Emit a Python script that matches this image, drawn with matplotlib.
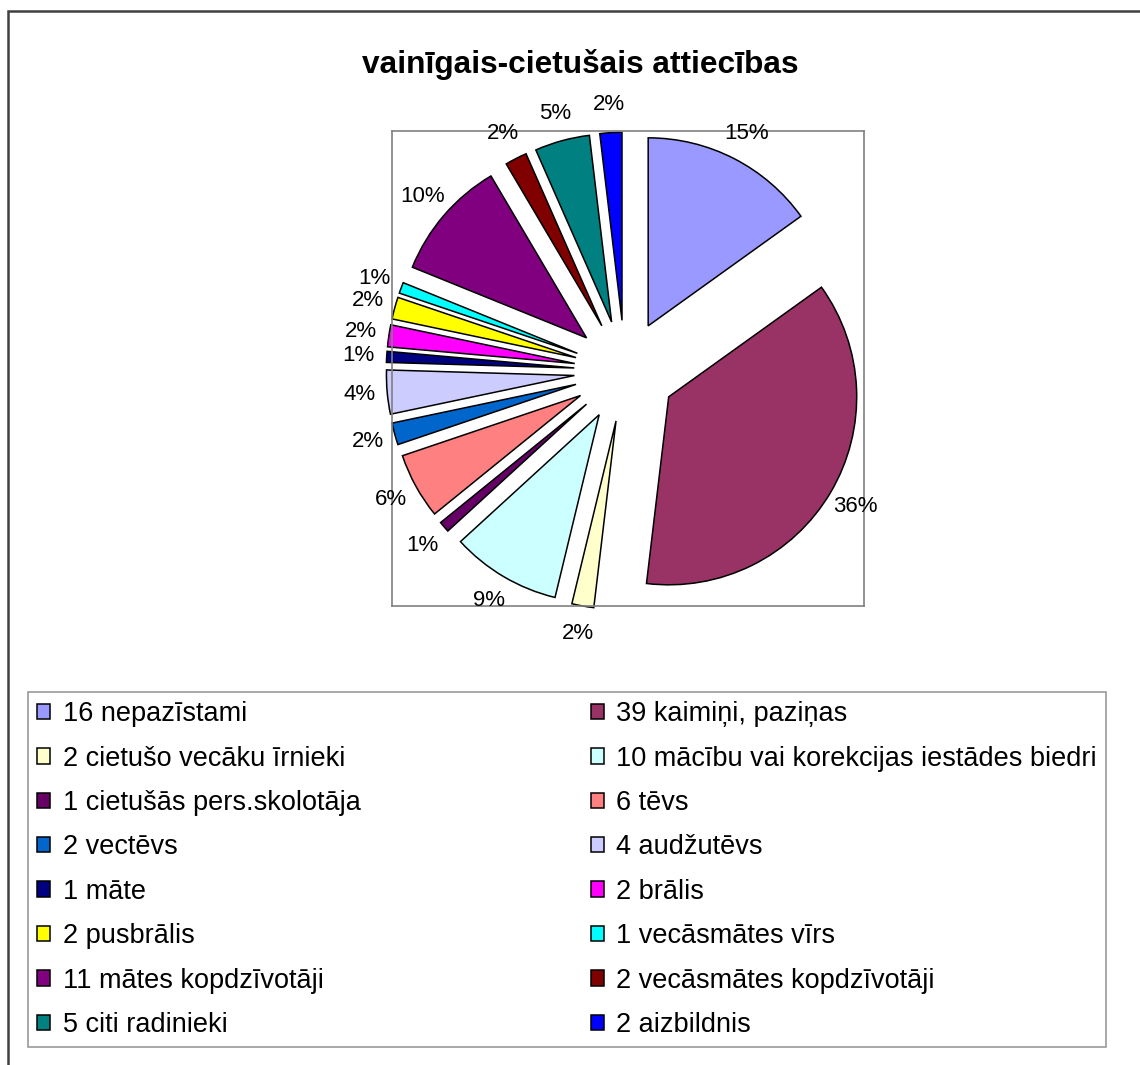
import matplotlib.pyplot as plt
from matplotlib.patches import Patch, Rectangle

plt.rcParams['font.family'] = ['Liberation Sans', 'DejaVu Sans']

# data
names = ['nepazīstami', 'kaimiņi, paziņas', 'cietušo vecāku īrnieki',
         'mācību vai korekcijas iestādes biedri', 'cietušās pers.skolotāja',
         'tēvs', 'vectēvs', 'audžutēvs', 'māte', 'brālis', 'pusbrālis',
         'vecāsmātes vīrs', 'mātes kopdzīvotāji', 'vecāsmātes kopdzīvotāji',
         'citi radinieki', 'aizbildnis']
counts = [16, 39, 2, 10, 1, 6, 2, 4, 1, 2, 2, 1, 11, 2, 5, 2]
pct_labels = ['15%', '36%', '2%', '9%', '1%', '6%', '2%', '4%', '1%', '2%',
              '2%', '1%', '10%', '2%', '5%', '2%']
colors = ['#9999FF', '#993366', '#FFFFCC', '#CCFFFF', '#660066', '#FF8080',
          '#0066CC', '#CCCCFF', '#000080', '#FF00FF', '#FFFF00', '#00FFFF',
          '#800080', '#800000', '#008080', '#0000FF']
title = 'vainīgais-cietušais attiecības'

W, H = 1140, 1065
fig = plt.figure(figsize=(W / 100, H / 100), dpi=100)

# plot area box in pixels, pie centre and radius
bx0, by0, bx1, by1 = 392, 131, 864, 606
cx, cy, R = 625, 371, 188
ax = fig.add_axes([bx0 / W, 1 - by1 / H, (bx1 - bx0) / W, (by1 - by0) / H])

wedges, texts = ax.pie(counts, colors=colors, startangle=90, counterclock=False,
                       explode=[0.27] * len(counts), labels=pct_labels,
                       labeldistance=1.15,
                       wedgeprops=dict(edgecolor='black', linewidth=1.1),
                       textprops=dict(fontsize=16, color='black'))
for t in texts:
    t.set_ha('center')
    t.set_va('center')
for w in wedges:
    w.set_clip_on(False)

ax.set_xlim((bx0 - cx) / R, (bx1 - cx) / R)
ax.set_ylim(-(by1 - cy) / R, (cy - by0) / R)
ax.set_aspect('auto')
ax.set_frame_on(True)
ax.set_xticks([])
ax.set_yticks([])
for s in ax.spines.values():
    s.set_visible(True)
    s.set_edgecolor('#808080')
    s.set_linewidth(1.2)

fig.text(580 / W, 1 - 65 / H, title, ha='center', va='center',
         fontsize=22.8, fontweight='bold')

# legend, row-major order in two columns
labels = [f'{c} {n}' for c, n in zip(counts, names)]
handles = [Patch(facecolor=col, edgecolor='black', linewidth=1.1) for col in colors]
order = list(range(0, 16, 2)) + list(range(1, 16, 2))
leg = fig.legend([handles[i] for i in order], [labels[i] for i in order],
                 ncol=2, loc='lower left',
                 bbox_to_anchor=(28 / W, 1 - 1047 / H, (1106 - 28) / W, (1047 - 692) / H),
                 mode='expand', fontsize=19.5, frameon=True, fancybox=False,
                 edgecolor='#808080', handlelength=0.5, handleheight=0.5,
                 handletextpad=0.45, labelspacing=0.68, borderpad=0.33,
                 borderaxespad=0)
leg.get_frame().set_linewidth(1.2)

# outer chart frame
fig.patches.append(Rectangle((8 / W, -0.05), 1.2, 1 - 11 / H + 0.05,
                             transform=fig.transFigure, fill=False,
                             edgecolor='#404040', linewidth=1.8))

fig.savefig('out.png', dpi=100)
